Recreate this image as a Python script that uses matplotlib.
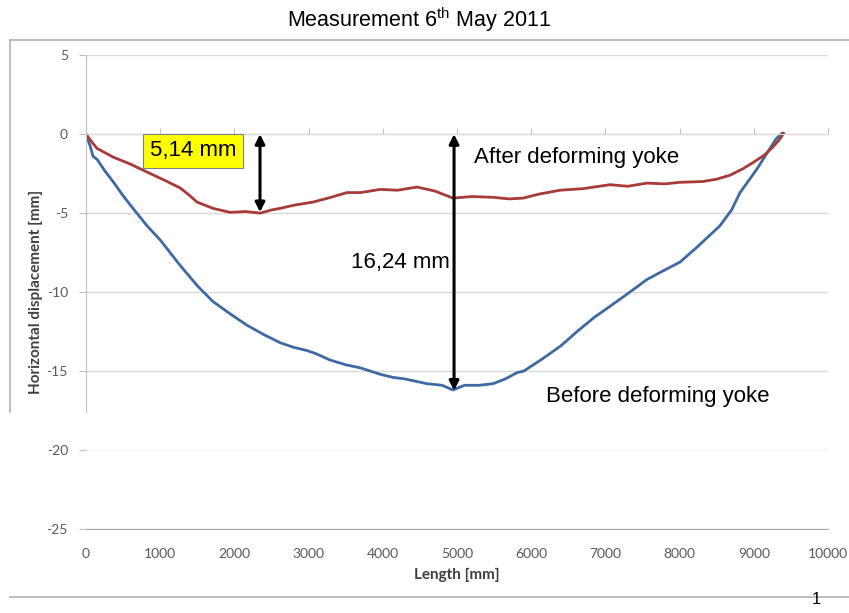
import matplotlib.pyplot as plt
from matplotlib.lines import Line2D

plt.rcParams['axes.unicode_minus'] = False

# before deforming yoke (blue)
before_x = [0, 60, 94, 150, 250, 364, 500, 650, 822, 1000, 1267, 1500, 1712, 1950, 2170,
            2400, 2615, 2800, 2978, 3100, 3288, 3500, 3700, 3962, 4137, 4300, 4596, 4800,
            4946, 5100, 5300, 5485, 5650, 5809, 5900, 6159, 6400, 6617, 6850, 7062, 7300,
            7561, 7800, 8005, 8200, 8315, 8544, 8700, 8814, 9043, 9218, 9300, 9380]
before_y = [0, -0.8, -1.4, -1.6, -2.3, -3.0, -3.9, -4.8, -5.8, -6.7, -8.3, -9.6, -10.6,
            -11.4, -12.1, -12.7, -13.2, -13.5, -13.7, -13.9, -14.3, -14.6, -14.8, -15.2,
            -15.4, -15.5, -15.8, -15.9, -16.2, -15.9, -15.9, -15.8, -15.5, -15.1, -15.0,
            -14.2, -13.4, -12.5, -11.6, -10.9, -10.1, -9.2, -8.6, -8.1, -7.3, -6.8, -5.8,
            -4.8, -3.7, -2.2, -0.9, -0.3, 0.05]

# after deforming yoke (red)
after_x = [0, 80, 148, 364, 600, 822, 1050, 1267, 1400, 1496, 1712, 1941, 2150, 2345, 2500,
           2615, 2800, 3059, 3300, 3517, 3700, 3962, 4200, 4461, 4700, 4946, 5200, 5485,
           5700, 5890, 6100, 6388, 6700, 7062, 7300, 7561, 7800, 8000, 8315, 8500, 8679,
           8850, 8989, 9150, 9259, 9353, 9400]
after_y = [0, -0.5, -0.9, -1.45, -1.9, -2.4, -2.9, -3.4, -3.9, -4.3, -4.7, -4.95, -4.9,
           -5.0, -4.8, -4.7, -4.5, -4.3, -4.0, -3.7, -3.7, -3.5, -3.55, -3.35, -3.6, -4.05,
           -3.95, -4.0, -4.1, -4.05, -3.8, -3.55, -3.45, -3.2, -3.3, -3.1, -3.15, -3.05,
           -3.0, -2.85, -2.6, -2.2, -1.8, -1.3, -0.8, -0.3, 0.05]

x_ticks = list(range(0, 10001, 1000))
y_ticks = [5, 0, -5, -10, -15, -20, -25]

# measured gaps
small_gap_x, small_gap = 2345, 5.14
big_gap_x, big_gap = 4960, 16.24

fig = plt.figure(figsize=(8.49, 6.13), dpi=100)
ax = fig.add_axes([0.1013, 0.137, 0.874, 0.773])

ax.plot(before_x, before_y, color='#3d6aa3', lw=2)
ax.plot(after_x, after_y, color='#a83a38', lw=2)

ax.set_xlim(0, 10000)
ax.set_ylim(-25, 5)
ax.set_xticks(x_ticks)
ax.set_yticks(y_ticks)
ax.grid(axis='y', color='#d9d9d9', lw=1)
ax.set_axisbelow(True)
for t, gl in zip(ax.get_yticks(), ax.get_ygridlines()):
    if t == -20:
        gl.set_color('#f3f3f3')

ax.spines['right'].set_visible(False)
ax.spines['top'].set_position(('data', 0))
ax.spines['top'].set_color('#d9d9d9')
ax.spines['bottom'].set_color('#a6a6a6')
ax.spines['left'].set_color('#bfbfbf')
ax.spines['left'].set_bounds(-17.6, 5)
ax.tick_params(axis='x', top=True, bottom=False, labeltop=False, labelbottom=True,
               direction='out', length=4, color='#bfbfbf', pad=10)
ax.tick_params(axis='y', direction='out', length=5, color='#bfbfbf', pad=8)
for lab in ax.get_xticklabels() + ax.get_yticklabels():
    lab.set_family('Lato')
    lab.set_fontsize(10)
    lab.set_color('#595959')

ax.set_xlabel('Length [mm]', family='Lato', fontweight='bold', fontsize=11,
              color='#404040', labelpad=5)
ax.set_ylabel('Horizontal displacement [mm]', family='Lato', fontweight='bold',
              fontsize=11, color='#404040', labelpad=2.5)

arrow = dict(arrowstyle='<|-|>', color='black', lw=2.2, mutation_scale=14,
             shrinkA=0, shrinkB=0)
ax.annotate('', xy=(small_gap_x, -small_gap + 0.2), xytext=(small_gap_x, 0), arrowprops=arrow)
ax.annotate('', xy=(big_gap_x, -big_gap), xytext=(big_gap_x, 0), arrowprops=arrow)

txt = dict(family='Liberation Sans', fontsize=16, color='black')
ax.text(2030, -1.05, '5,14 mm', ha='right', va='center',
        bbox=dict(boxstyle='square,pad=0.3', fc='#ffff00', ec='#808080', lw=0.8), **txt)
ax.text(5230, -1.5, 'After deforming yoke', ha='left', va='center', **txt)
ax.text(4900, -8.1, '16,24 mm', ha='right', va='center', **txt)
ax.text(6200, -16.6, 'Before deforming yoke', ha='left', va='center', **txt)

fig.text(0.493, 0.968, 'Measurement 6$^{\\mathregular{th}}$ May 2011', ha='center',
         va='center', family='Liberation Sans', fontsize=15.5)
fig.text(0.962, 0.01, '1', ha='center', va='bottom', family='Liberation Sans', fontsize=12)

# chart frame
frame = '#b0b0b0'
fig.add_artist(Line2D([0.0118, 1.0], [0.9347, 0.9347], color=frame, lw=1.2))
fig.add_artist(Line2D([0.0118, 0.0118], [0.9347, 0.328], color=frame, lw=1.2))
fig.add_artist(Line2D([0.0118, 1.0], [0.0261, 0.0261], color=frame, lw=1.2))

fig.savefig('out.png', dpi=100)
